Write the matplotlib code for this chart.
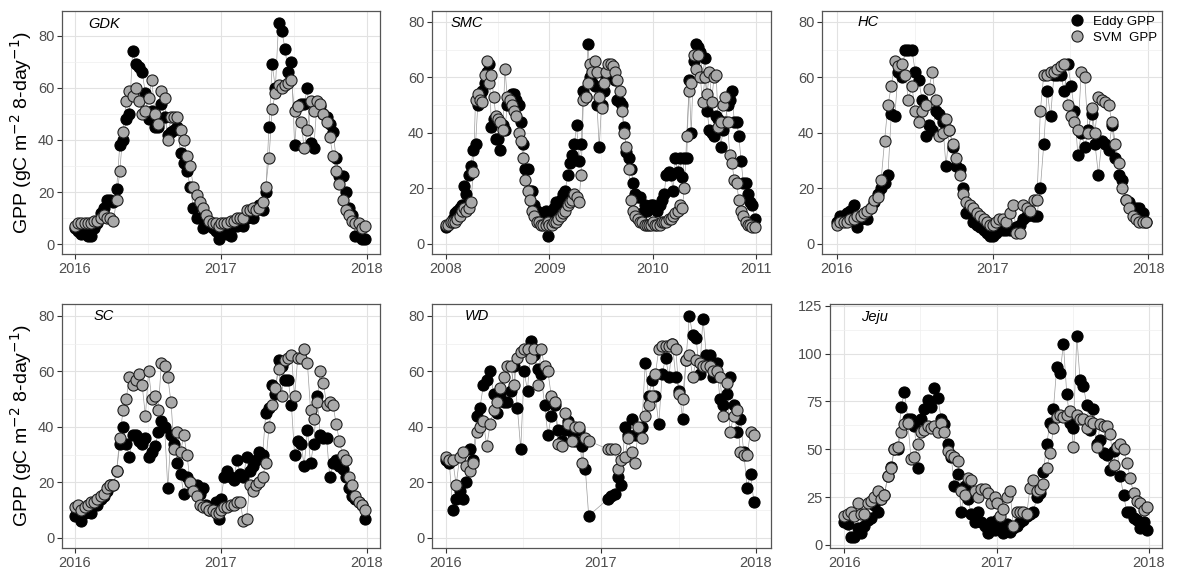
import numpy as np
import matplotlib.pyplot as plt
from matplotlib.ticker import MultipleLocator, FuncFormatter

plt.rcParams['font.family'] = ['Liberation Sans', 'DejaVu Sans']

nan = np.nan

# 8-day GPP composites (46 per year)
gdk_eddy = [6, 5, 4, 5, 3, 3, 6, 8, 12, 14, 17, 17, 16, 21, 38, 40, 48, 50, 74, 69,
            68, 66, 58, 48, 51, 45, 45, 54, 49, 42, 43, 44, 45, 35, 31, 28, 22, 14, 10, 10,
            6, 7, 8, 6, 5, 2,
            5, 6, 4, 3, 7, 7, 9, 7, 10, 12, 10, 14, 15, 13, 20, 45, 69, 60, 85, 82,
            75, 66, 70, 38, 53, 54, 54, 60, 39, 37, 54, 53, 50, 49, 46, 43, 33, 26, 26, 20,
            14, 11, 3, 3, 2, 2]
gdk_svm = [7, 8, 8, 8, 8, 8, 9, 9, 10, 11, 10, 10, 9, 17, 28, 43, 55, 59, 57, 60,
           55, 50, 51, 56, 63, 50, 46, 59, 56, 40, 49, 49, 49, 44, 40, 34, 30, 22, 19, 16,
           14, 11, 9, 8, 8, 7,
           8, 8, 8, 9, 9, 10, 10, 10, 13, 13, 14, 13, 14, 16, 22, 33, 52, 58, 61, 60,
           61, 62, 63, 51, 53, 47, 37, 44, 55, 51, 55, 54, 50, 47, 41, 34, 28, 23, 17, 13,
           11, 9, 8, 8, 6, 7]

smc_eddy = [6, 7, 8, 9, 11, 12, 13, 14, 21, 18, 25, 28, 34, 36, 50, 53, 55, 58, 62, 65,
            42, 45, 38, 38, 34, 43, 41, 50, 53, 54, 54, 52, 50, 44, 36, 27, 27, 19, 19, 14,
            12, 10, 9, 8, 12, 3,
            10, 12, 13, 15, 14, 16, 18, 19, 25, 29, 32, 36, 43, 30, 36, 55, 53, 72, 60, 58,
            57, 50, 35, 50, 55, 60, 63, 61, 62, 59, 52, 51, 50, 42, 33, 31, 27, 22, 18, 17,
            17, 11, 14, 12, 13, 14,
            14, 13, 12, 14, 16, 18, 25, 26, 25, 19, 31, 26, 31, 24, 31, 31, 59, 40, 66, 72,
            71, 69, 60, 67, 48, 41, 40, 39, 46, 45, 35, 41, 44, 50, 52, 55, 44, 44, 39, 30,
            22, 22, 18, 15, 14, 9]
smc_svm = [7, 7, 8, 8, 8, 9, 10, 12, 13, 12, 13, 15, 26, 52, 54, 52, 51, 61, 66, 58,
           61, 53, 46, 45, 44, 41, 63, 53, 52, 50, 48, 46, 40, 37, 31, 23, 19, 16, 12, 10,
           8, 8, 7, 7, 7, 8,
           7, 7, 8, 8, 9, 10, 11, 12, 14, 15, 16, 18, 17, 15, 25, 52, 53, 58, 65, 62,
           66, 62, 53, 49, 58, 62, 65, 65, 64, 62, 59, 55, 48, 40, 35, 27, 16, 12, 10, 9,
           8, 8, 7, 7, 7, 7,
           8, 7, 7, 7, 8, 8, 8, 9, 9, 10, 11, 12, 14, 13, 20, 39, 55, 58, 68, 63,
           68, 60, 51, 60, 54, 62, 51, 60, 61, 42, 44, 50, 53, 44, 32, 29, 23, 22, 16, 12,
           10, 8, 7, 7, 6, 6]

hc_eddy = [8, 10, 10, 11, 12, 14, 6, 9, 10, 9, 13, 15, 18, 20, 22, 25, 47, 46, 62, 60,
           70, 70, 70, 62, 59, 52, 39, 43, 41, 48, 47, 44, 28, 41, 35, 28, 27, 20, 11, 11,
           8, 7, 6, 5, 4, 3,
           3, 4, 5, 5, 5, 5, 5, 6, 7, 9, 10, 11, 10, 10, 20, 36, 55, 46, 61, 61,
           61, 55, 65, 57, 48, 32, 40, 35, 41, 47, 36, 25, 37, 36, 34, 43, 31, 25, 23, 16,
           15, 13, 13, 13, 11, 8]
hc_svm = [7, 8, 8, 8, 9, 9, 10, 10, 11, 12, 13, 16, 17, 23, 37, 50, 57, 66, 64, 65,
          61, 52, 57, 48, 44, 48, 50, 56, 62, 52, 39, 40, 45, 41, 36, 31, 25, 18, 15, 14,
          13, 11, 10, 9, 8, 7,
          7, 8, 9, 9, 8, 11, 14, 4, 4, 14, 13, 12, 16, 16, 48, 61, 61, 62, 62, 63,
          64, 65, 50, 46, 44, 41, 62, 60, 40, 49, 40, 53, 52, 51, 50, 44, 36, 29, 20, 16,
          13, 10, 9, 8, 8, 8]

sc_eddy = [8, 10, 6, 9, 12, 9, 12, 12, 14, 15, 17, 19, 19, 24, 34, 40, 34, 29, 37, 37,
           35, 34, 36, 29, 31, 33, 38, 42, 40, 18, 37, 34, 27, 23, 16, 22, 20, 18, 19, 16,
           18, 12, 10, 11, 13, 7,
           14, 22, 24, 22, 21, 28, 23, 22, 29, 24, 26, 28, 31, 30, 45, 47, 55, 52, 64, 62,
           57, 57, 48, 30, 35, 34, 26, 39, 27, 34, 51, 37, 36, 36, 22, 27, 28, 26, 25, 22,
           18, 15, 14, 13, 12, 7]
sc_svm = [11, 12, 10, 11, 12, 13, 13, 14, 15, 16, 18, 19, 19, 24, 36, 46, 50, 58, 55, 57,
          59, 55, 44, 60, 50, 51, 46, 63, 62, 58, 49, 32, 38, 31, 37, 30, 20, 17, 15, 12,
          11, 11, 10, 10, 9, 9,
          10, 11, 11, 12, 12, 13, 13, 6, 7, 19, 17, 19, 20, 22, 27, 40, 48, 54, 61, 51,
          64, 65, 66, 51, 65, 65, 68, 63, 46, 43, 49, 60, 56, 48, 49, 48, 41, 35, 30, 28,
          22, 19, 15, 13, 12, 10]

wd_eddy = [28, 27, 10, 14, 17, 14, 20, 32, 28, 44, 47, 55, 57, 60, 52, 45, 52, 49, 49, 53,
           62, 47, 32, 60, 53, 71, 66, 61, 59, 48, 37, 44, 48, 39, 35, 39, 42, 38, 35, 39,
           33, 25, 8, nan, nan, nan,
           nan, nan, 14, 15, 16, 22, 19, 40, 37, 43, 37, 37, 40, 63, 51, 57, 51, 41, 59, 65,
           58, 70, 58, 53, 43, 64, 80, 73, 72, 59, 79, 66, 66, 58, 63, 50, 48, 52, 58, 48,
           38, 43, 31, 18, 23, 13]
wd_svm = [29, 28, 28, 19, 29, 31, 26, 24, 27, 38, 40, 42, 33, 41, 46, 49, 54, 58, 62, 62,
          55, 65, 67, 68, 68, 65, 68, 55, 68, 62, 60, 51, 49, 34, 33, 45, 41, 35, 40, 40,
          27, 36, 35, nan, nan, nan,
          nan, nan, 32, 32, 32, 25, 28, 29, 36, 31, 27, 40, 36, 44, 48, 51, 59, 68, 69, 69,
          69, 70, 68, 52, 50, 64, 66, 58, 64, 63, 62, 62, 62, 60, 60, 58, 44, 56, 38, 44,
          46, 31, 30, 30, 38, 37]

jeju_eddy = [12, 11, 4, 4, 9, 6, 10, 13, 14, 21, 17, 24, 26, 36, 41, 50, 50, 72, 80, 66,
             66, 62, 40, 66, 71, 76, 72, 82, 77, 66, 63, 53, 46, 31, 37, 17, 31, 24, 16, 12,
             17, 12, 10, 6, 12, 8,
             13, 10, 6, 11, 7, 9, 10, 12, 13, 15, 16, 17, 25, 27, 38, 53, 64, 71, 93, 90,
             105, 79, 64, 61, 109, 86, 83, 73, 60, 71, 53, 55, 48, 47, 39, 49, 51, 36, 26, 17,
             17, 14, 13, 9, 12, 8]
jeju_svm = [15, 16, 17, 15, 22, 16, 16, 22, 23, 25, 28, 24, 26, 36, 40, 50, 51, 59, 63, 64,
            45, 46, 53, 59, 60, 62, 61, 62, 59, 64, 59, 49, 47, 46, 44, 28, 26, 35, 34, 28,
            25, 29, 29, 27, 22, 25,
            22, 15, 19, 25, 28, 10, 17, 17, 17, 16, 30, 34, 28, 29, 32, 40, 48, 61, 67, 68,
            67, 68, 70, 51, 68, 66, 66, 61, 65, 64, 51, 63, 62, 62, 58, 42, 51, 53, 50, 43,
            35, 27, 23, 22, 18, 20]

sites = ["GDK", "SMC", "HC", "SC", "WD", "Jeju"]
start_years = [2016, 2008, 2016, 2016, 2016, 2016]
eddy = [gdk_eddy, smc_eddy, hc_eddy, sc_eddy, wd_eddy, jeju_eddy]
svm = [gdk_svm, smc_svm, hc_svm, sc_svm, wd_svm, jeju_svm]

# axes boxes in figure fractions (left, bottom, width, height)
boxes = [(0.0524, 0.556, 0.2688, 0.425), (0.3652, 0.556, 0.2866, 0.425), (0.6949, 0.556, 0.2874, 0.425),
         (0.0524, 0.042, 0.2688, 0.4266), (0.3652, 0.042, 0.2866, 0.4266), (0.7016, 0.042, 0.2806, 0.4266)]
xlims = [(2015.911, 2018.089), (2007.864, 2011.145), (2015.906, 2018.088),
         (2015.911, 2018.089), (2015.91, 2018.097), (2015.906, 2018.085)]
ylims = [(-3.8, 89.6), (-3.6, 84), (-3.6, 84), (-3.6, 84.3), (-3.6, 84.3), (-1.6, 126)]
label_y = [84.6, 79.5, 80, 80, 80, 119]


def comp_dates(y0, n):
    i = np.arange(n)
    doy = 1 + 8 * (i % 46)
    return y0 + i // 46 + (doy - 1) / 365.0


fig = plt.figure(figsize=(11.83, 5.72), dpi=100)
ylab = r"GPP (gC m$^{-2}$ 8-day$^{-1}$)"

for k, site in enumerate(sites):
    ax = fig.add_axes(boxes[k])
    e = np.array(eddy[k], dtype=float)
    s = np.array(svm[k], dtype=float)
    t = comp_dates(start_years[k], len(e))

    for v in (e, s):
        ok = ~np.isnan(v)
        ax.plot(t[ok], v[ok], color='#9c9c9c', lw=0.5, zorder=2)
    h1, = ax.plot(t, e, 'o', ls='none', ms=8.0, mfc='black', mec='black', mew=0.8, zorder=3)
    h2, = ax.plot(t, s, 'o', ls='none', ms=8.0, mfc='#a9a9a9', mec='#1e1e1e', mew=0.8, zorder=4)

    y0 = start_years[k]
    ax.set_xlim(*xlims[k])
    ax.set_ylim(*ylims[k])
    ax.xaxis.set_major_locator(MultipleLocator(1))
    ax.xaxis.set_minor_locator(MultipleLocator(0.5))
    ax.xaxis.set_major_formatter(FuncFormatter(lambda v, p: "%d" % round(v)))
    if site == "Jeju":
        ax.yaxis.set_major_locator(MultipleLocator(25))
        ax.yaxis.set_minor_locator(MultipleLocator(12.5))
    else:
        ax.yaxis.set_major_locator(MultipleLocator(20))
        ax.yaxis.set_minor_locator(MultipleLocator(10))
    ax.set_axisbelow(True)
    ax.grid(which='major', color='#e2e2e2', lw=0.8)
    ax.grid(which='minor', color='#efefef', lw=0.5)
    ax.tick_params(which='minor', length=0)
    ax.tick_params(which='major', length=3.5, width=0.8, color='#333333',
                   labelcolor='#4d4d4d', labelsize=10.5, pad=2)
    for sp in ax.spines.values():
        sp.set_color('#555555')
        sp.set_linewidth(0.9)

    ax.text(y0 + 0.2, label_y[k], site, style='italic', fontsize=10.5,
            ha='center', va='center', zorder=5)

    if k in (0, 3):
        ax.set_ylabel(ylab, fontsize=14, labelpad=3)
    if site == "HC":
        ax.legend([h1, h2], ["Eddy GPP", "SVM  GPP"], loc='upper right', frameon=False,
                  fontsize=9.5, handletextpad=0.7, borderaxespad=0.15, labelspacing=0.3,
                  handlelength=1.0, borderpad=0.2)

fig.savefig('out.png', dpi=100)
